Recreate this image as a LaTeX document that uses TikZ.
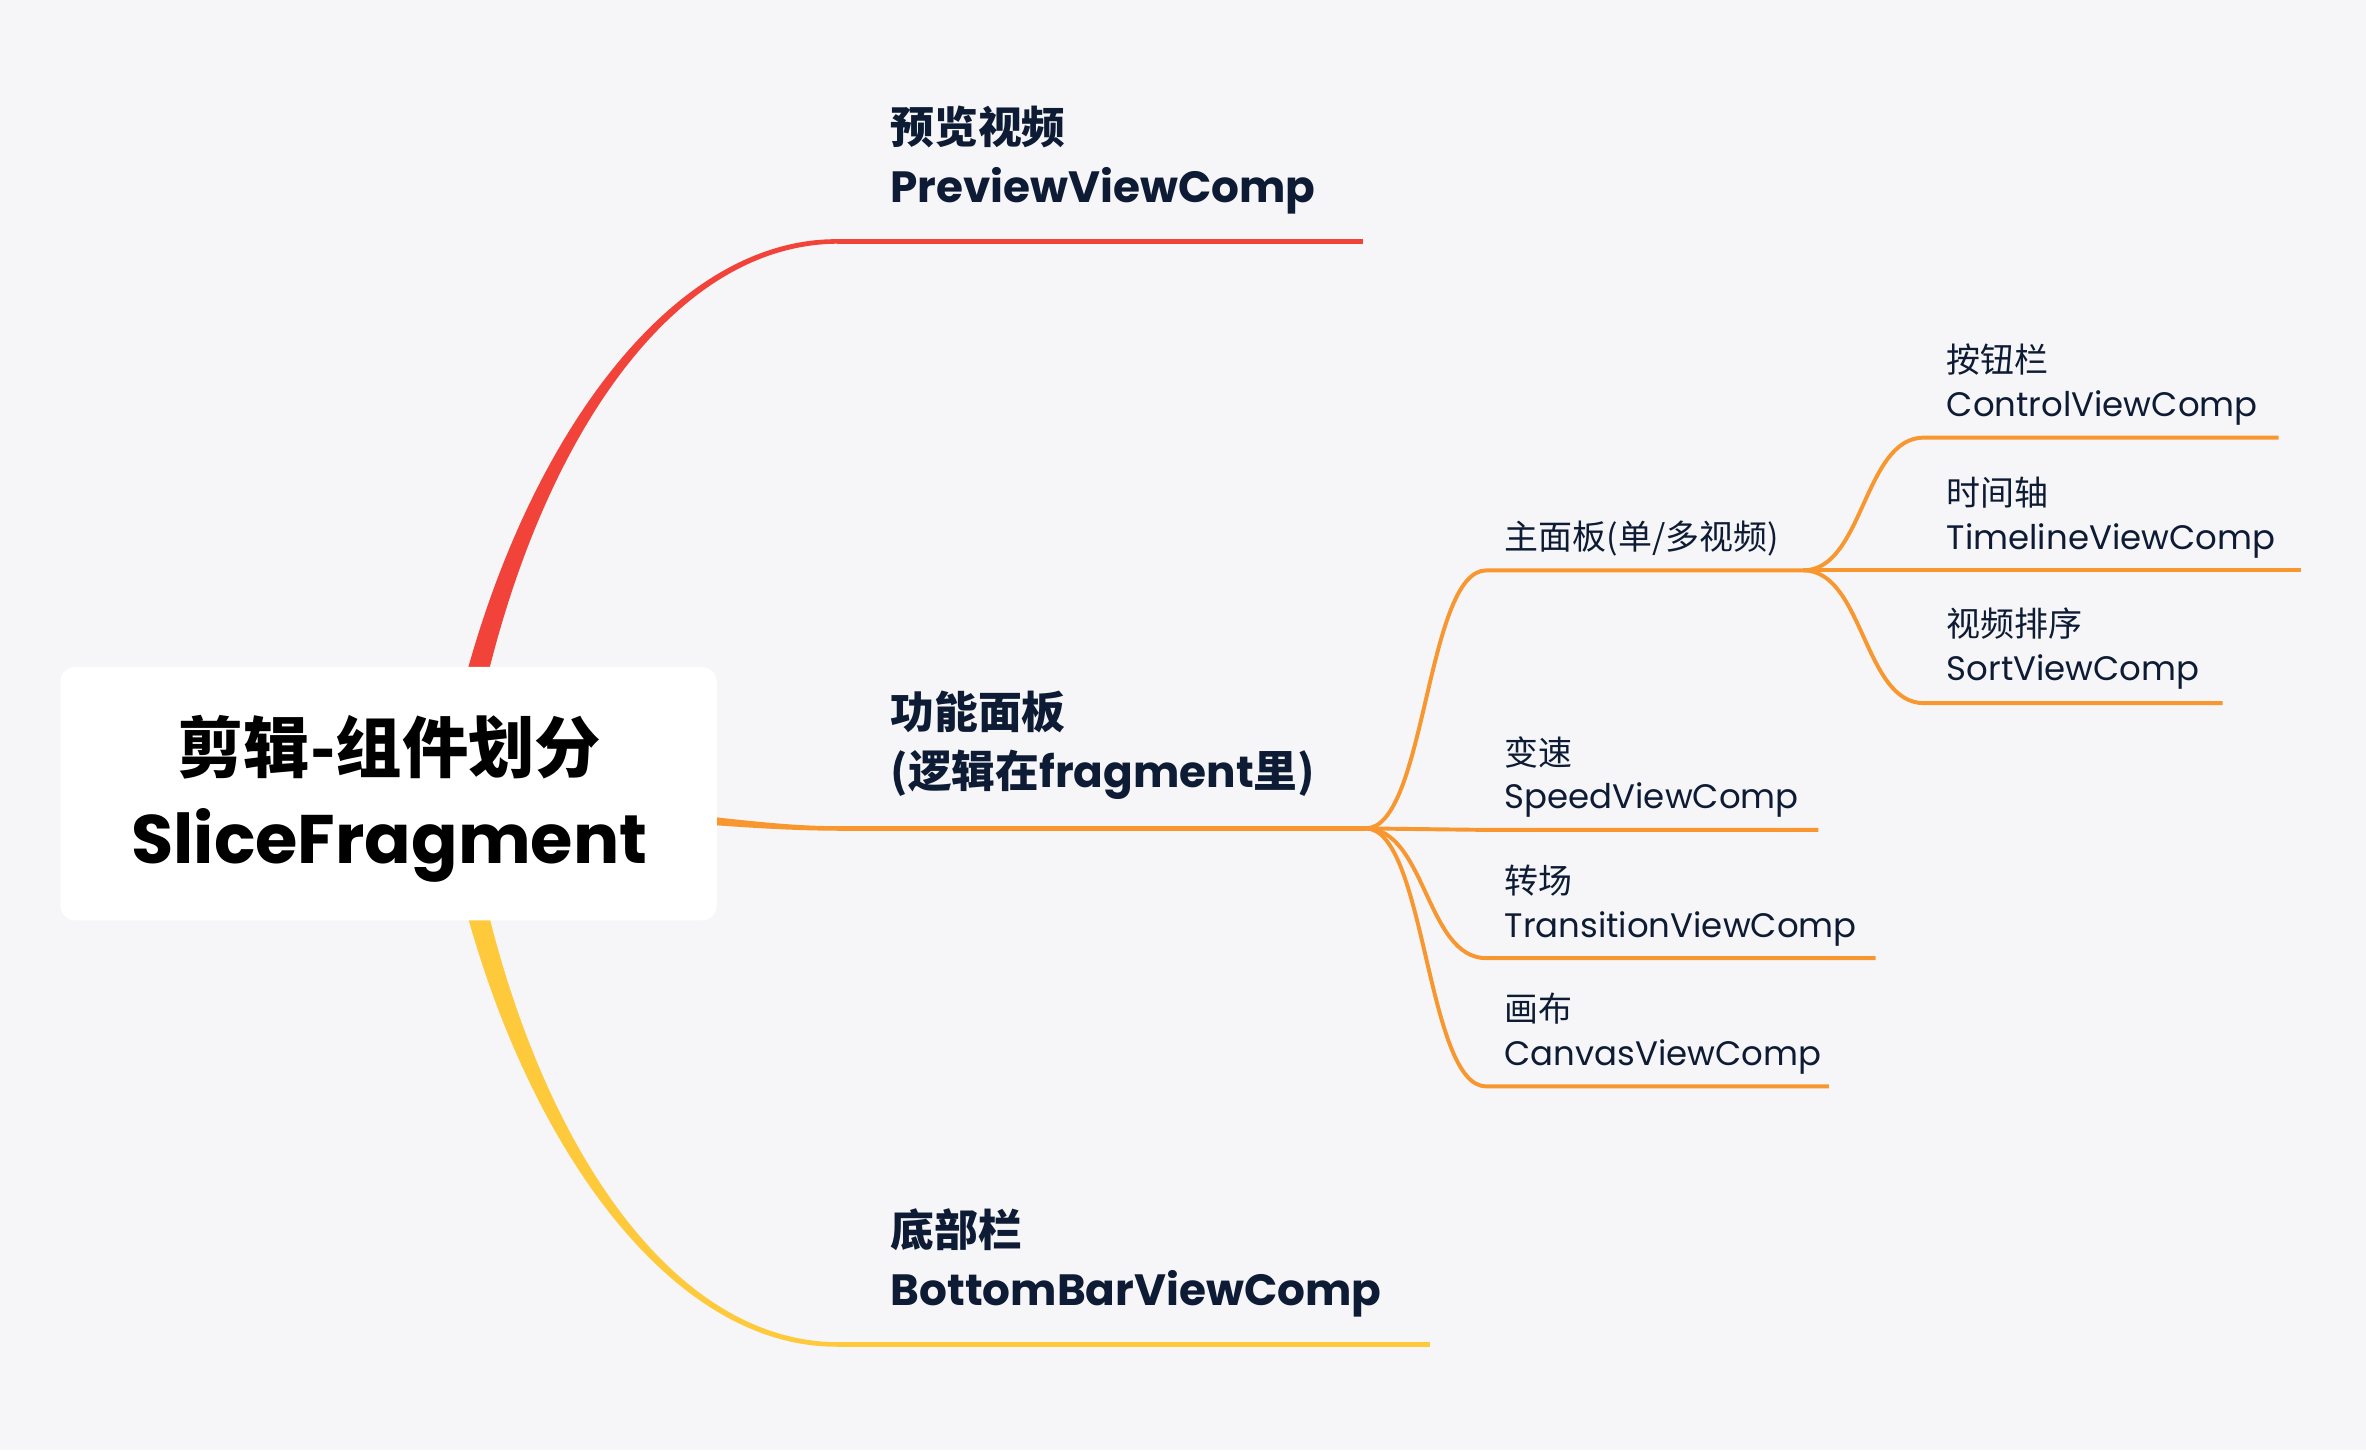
\documentclass[tikz,border=0pt]{standalone}
\usepackage{fontspec}
\setmainfont{Poppins}
\newfontfamily\cjk{Noto Sans CJK SC}
\definecolor{bgc}{HTML}{F6F6F8}
\definecolor{navy}{HTML}{0D1B34}
\definecolor{cred}{HTML}{F1433A}
\definecolor{corange}{HTML}{F8962F}
\definecolor{cyellow}{HTML}{FFC93C}
\tikzset{
  lone/.style={anchor=base west, inner sep=0pt, text=navy, font=\bfseries\fontsize{29}{35}\selectfont},
  ltwo/.style={anchor=base west, inner sep=0pt, text=navy, font=\fontsize{22.5}{27}\selectfont},
  rootline/.style={anchor=base, inner sep=0pt, text=black, font=\bfseries\fontsize{45.5}{55}\selectfont},
  ulone/.style={line width=3pt},
  cn/.style={line width=2.6pt, draw=corange},
}
\begin{document}
\begin{tikzpicture}[x=1pt,y=-1pt]
\fill[bgc] (0,0) rectangle (1568,961);
\useasboundingbox (0,0) rectangle (1568,961);
% coordinates
\coordinate (pvS) at (555,160); \coordinate (pvE) at (903,160);
\coordinate (fnS) at (555,549); \coordinate (fnE) at (905,549);
\coordinate (btS) at (555,891); \coordinate (btE) at (948,891);
\coordinate (mpS) at (985,378); \coordinate (mpE) at (1195,378);
\coordinate (spS) at (985,550); \coordinate (spE) at (1205,550);
\coordinate (trS) at (985,635); \coordinate (trE) at (1243,635);
\coordinate (cvS) at (985,720); \coordinate (cvE) at (1212,720);
\coordinate (ctS) at (1275,290); \coordinate (ctE) at (1510,290);
\coordinate (tlE) at (1525,378);
\coordinate (soS) at (1275,466); \coordinate (soE) at (1473,466);
% main branches (tapered)
\fill[cred] (292.1,524.8) .. controls (324.1,329.1) and (430,157.8) .. (555,158.5) -- (555,161.5) .. controls (430,162.2) and (335.9,330.9) .. (307.9,527.2) -- cycle;
\fill[cyellow] (292.1,526.2) .. controls (324.1,721.9) and (430,893.2) .. (555,892.5) -- (555,889.5) .. controls (430,888.8) and (335.9,720.1) .. (307.9,523.8) -- cycle;
\fill[corange] (300,525) .. controls (450,536) and (500,547.5) .. (555,547.5) -- (555,550.5) .. controls (500,550.5) and (450,544) .. (300,535) -- cycle;
% level-1 underlines
\draw[ulone, cred] (pvS) -- (pvE);
\draw[ulone, corange] (fnS) -- (fnE);
\draw[ulone, cyellow] (btS) -- (btE);
% level-2 connectors
\draw[cn] (fnE) .. controls (945,549) and (945,378) .. (mpS) -- (mpE);
\draw[cn] (fnE) .. controls (945,549) and (945,550) .. (spS) -- (spE);
\draw[cn] (fnE) .. controls (945,549) and (945,635) .. (trS) -- (trE);
\draw[cn] (fnE) .. controls (945,549) and (945,720) .. (cvS) -- (cvE);
% level-3 connectors
\draw[cn] (mpE) .. controls (1235,378) and (1235,290) .. (ctS) -- (ctE);
\draw[cn] (mpE) -- (tlE);
\draw[cn] (mpE) .. controls (1235,378) and (1235,466) .. (soS) -- (soE);
% root
\node[fill=white, rounded corners=10pt, minimum width=435pt, minimum height=168pt, inner sep=0pt] (root) at (257.5,526) {};
\node[rootline, font=\bfseries\fontsize{44}{55}\selectfont] (rootA) at (258,512) {\cjk 剪辑-组件划分};
\node[rootline] (rootB) at (258,572) {SliceFragment};
% level 1
\node[lone] (pvA) at (590,95) {\cjk 预览视频};
\node[lone] (pvB) at (590,134) {PreviewViewComp};
\node[lone] (fnA) at (590,483) {\cjk 功能面板};
\node[lone] (fnB) at (590,522) {{\cjk (逻辑在}fragment{\cjk 里)}};
\node[lone] (btA) at (590,826) {\cjk 底部栏};
\node[lone] (btB) at (590,865) {BottomBarViewComp};
% level 2
\node[ltwo] (mpA) at (997,364) {\cjk 主面板(单/多视频)};
\node[ltwo] (spA) at (997,507) {\cjk 变速};
\node[ltwo] (spB) at (997,536) {SpeedViewComp};
\node[ltwo] (trA) at (997,592) {\cjk 转场};
\node[ltwo] (trB) at (997,621) {TransitionViewComp};
\node[ltwo] (cvA) at (997,677) {\cjk 画布};
\node[ltwo] (cvB) at (997,706) {CanvasViewComp};
% level 3
\node[ltwo] (ctA) at (1290,247) {\cjk 按钮栏};
\node[ltwo] (ctB) at (1290,276) {ControlViewComp};
\node[ltwo] (tlA) at (1290,335) {\cjk 时间轴};
\node[ltwo] (tlB) at (1290,364) {TimelineViewComp};
\node[ltwo] (soA) at (1290,422) {\cjk 视频排序};
\node[ltwo] (soB) at (1290,451) {SortViewComp};
\end{tikzpicture}
\end{document}
